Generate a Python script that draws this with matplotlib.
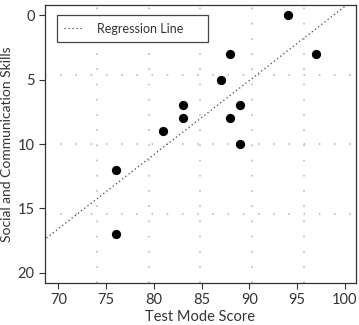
import numpy as np
import matplotlib
matplotlib.use('Agg')
import matplotlib.pyplot as plt

plt.rcParams['font.family'] = ['Lato', 'DejaVu Sans']

# data
test_mode = [94, 97, 88, 87, 89, 88, 83, 83, 81, 89, 76, 76]
social_skills = [0, 3, 3, 5, 7, 8, 7, 8, 9, 10, 12, 17]
x_ticks = [70, 75, 80, 85, 90, 95, 100]
y_ticks = [0, 5, 10, 15, 20]

fig = plt.figure(figsize=(3.59, 3.25), dpi=100)
ax = fig.add_axes([0.1253, 0.1292, 0.8663, 0.8554])

xlim = (68.6, 101.15)
ylim = (20.78, -0.78)
ax.set_xlim(xlim)
ax.set_ylim(ylim)

# R-style grid: equal divisions of the plot region
gcol = '#c8c8c8'
for gx in np.linspace(xlim[0], xlim[1], 7)[1:-1]:
    ax.axvline(gx, color=gcol, lw=1.5, linestyle=(0, (0.8, 6.5)), zorder=1)
for gy in np.linspace(ylim[1], ylim[0], 5)[1:-1]:
    ax.axhline(gy, color=gcol, lw=1.5, linestyle=(0, (0.8, 6.5)), zorder=1)

ax.scatter(test_mode, social_skills, s=32, color='black', zorder=3)

# regression line across the whole region
slope, intercept = np.polyfit(test_mode, social_skills, 1)
xx = np.array([60, 110])
ax.plot(xx, intercept + slope * xx, color='#444444', lw=0.9, linestyle=(0, (1, 2.2)),
        label='Regression Line', zorder=2)

ax.set_xticks(x_ticks)
ax.set_yticks(y_ticks)
ax.tick_params(direction='out', length=4, width=0.8, colors='#333333',
               labelsize=10.5, labelcolor='#333333')
for s in ax.spines.values():
    s.set_color('#333333')
    s.set_linewidth(0.9)

ax.set_xlabel('Test Mode Score', fontsize=10.5, color='#333333', labelpad=2)
ax.set_ylabel('Social and Communication Skills', fontsize=10, color='#333333', labelpad=3)

leg = ax.legend(loc='upper left', bbox_to_anchor=(0.0386, 0.864, 0.4855, 0.1),
                mode='expand', borderaxespad=0, fontsize=9,
                fancybox=False, framealpha=1, edgecolor='#444444',
                handlelength=1.6, handletextpad=1.0, borderpad=0.6,
                labelcolor='#333333')
leg.get_frame().set_linewidth(0.9)

fig.savefig('out.png', dpi=100)
